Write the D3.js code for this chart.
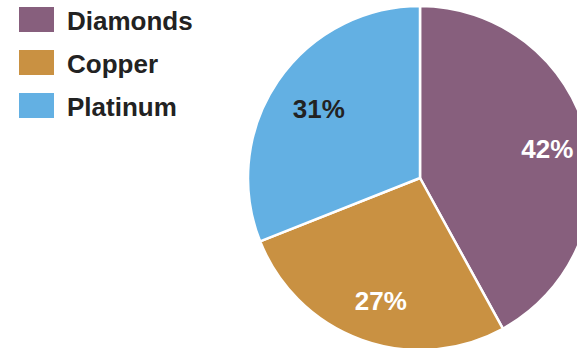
<!DOCTYPE html>
<html>
<head>
<meta charset="utf-8">
<script src="https://cdn.jsdelivr.net/npm/d3@7"></script>
<style>
  body { margin: 0; background: #fff; }
  svg { display: block; font-family: "Liberation Sans", Arial, sans-serif; }
</style>
</head>
<body>
<div id="viz"></div>
<script>
const width = 577;
const height = 348;

// data
const categories = ['Diamonds', 'Copper', 'Platinum'];
const shares = [42, 27, 31];
const colors = ['#875f7d', '#c99142', '#63b0e3'];
const labelColors = ['#ffffff', '#ffffff', '#222222'];

const data = categories.map((c, i) => ({name: c, value: shares[i]}));

const svg = d3.select('#viz')
    .append('svg')
        .attr('width', width)
        .attr('height', height);

const cx = 420, cy = 178, radius = 172;

const color = d3.scaleOrdinal().domain(categories).range(colors);
const labelColor = d3.scaleOrdinal().domain(categories).range(labelColors);

const pie = d3.pie().sort(null).value(d => d.value);
const arc = d3.arc().innerRadius(0).outerRadius(radius);
const labelArc = d3.arc().innerRadius(radius * 0.74).outerRadius(radius * 0.74);

const pieGroup = svg.append('g')
    .attr('transform', `translate(${cx},${cy})`);

const arcs = pie(data);

pieGroup.selectAll('path')
    .data(arcs)
    .join('path')
        .attr('d', arc)
        .attr('fill', d => color(d.data.name))
        .attr('stroke', '#fff')
        .attr('stroke-width', 2.5)
        .attr('stroke-linejoin', 'round');

pieGroup.selectAll('text')
    .data(arcs)
    .join('text')
        .attr('transform', d => {
            const [x, y] = labelArc.centroid(d);
            return `translate(${x + 4},${y + 3})`;
        })
        .attr('text-anchor', 'middle')
        .attr('dominant-baseline', 'central')
        .attr('fill', d => labelColor(d.data.name))
        .style('font-size', '26px')
        .style('font-weight', 'bold')
        .text(d => d.data.value + '%');

// legend
const legendY = d3.scalePoint().domain(categories).range([19.5, 105.5]);

const legend = svg.append('g').attr('class', 'legend');
legend.selectAll('rect')
    .data(categories)
    .join('rect')
        .attr('x', 19)
        .attr('y', d => legendY(d) - 12.5)
        .attr('width', 35)
        .attr('height', 25)
        .attr('fill', d => color(d));
legend.selectAll('text')
    .data(categories)
    .join('text')
        .attr('x', 67)
        .attr('y', d => legendY(d) + 1)
        .attr('dominant-baseline', 'central')
        .attr('fill', '#222')
        .style('font-size', '26px')
        .style('font-weight', 'bold')
        .text(d => d);
</script>
</body>
</html>
